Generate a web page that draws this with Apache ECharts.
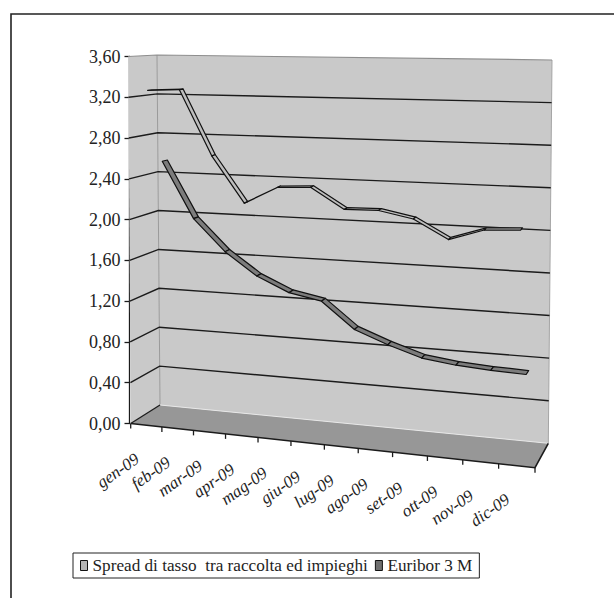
<!DOCTYPE html>
<html>
<head>
<meta charset="utf-8">
<script src="https://cdn.jsdelivr.net/npm/echarts@6/dist/echarts.min.js"></script>
<style>
  html, body { margin: 0; padding: 0; background: #fff; }
  #chart { width: 614px; height: 598px; }
</style>
</head>
<body>
<div id="chart"></div>
<script>
// Monthly values, 2009
const categories = ['gen-09', 'feb-09', 'mar-09', 'apr-09', 'mag-09', 'giu-09',
                    'lug-09', 'ago-09', 'set-09', 'ott-09', 'nov-09', 'dic-09'];
const spreadValues  = [3.27, 3.29, 2.66, 2.22, 2.39, 2.41, 2.22, 2.23, 2.17, 2.00, 2.11, 2.13];
const euriborValues = [2.54, 1.98, 1.67, 1.45, 1.31, 1.25, 1.00, 0.88, 0.78, 0.74, 0.72, 0.71];
const yTicks = [0, 0.4, 0.8, 1.2, 1.6, 2.0, 2.4, 2.8, 3.2, 3.6];
const seriesNames = ['Spread di tasso  tra raccolta ed impieghi', 'Euribor 3 M'];

// Screen geometry of the 3D box (floor corners, heights of the full value range,
// lean of the vertical edges) used to project the flat cartesian grid.
const BOX = {
  fl: [130.7, 423.5], fr: [535, 467.7], br: [548.3, 443.3], bl: [160, 405],
  hFL: 367, hFR: 396, hBR: 383.3, hBL: 350,
  lFL: -2.4, lFR: 4, lBR: 3.7, lBL: -3,
  persp: 0.0877
};
const WALL = '#c9c9c9';
const FLOOR = '#979797';
const INK = '#1b1b1b';
const FONT = 'Liberation Serif';

function lerp(a, b, t) { return a + (b - a) * t; }
function bil(q00, q10, q11, q01, u, z) { return lerp(lerp(q00, q10, u), lerp(q01, q11, u), z); }
function warp(u) { return u / (1 + BOX.persp * (1 - u)); }
// u: 0..1 along the categories, t: 0..1 along the value range, z: 0 front .. 1 back
function project(u, t, z) {
  const w = warp(u);
  const x = bil(BOX.fl[0], BOX.fr[0], BOX.br[0], BOX.bl[0], w, z);
  const y = bil(BOX.fl[1], BOX.fr[1], BOX.br[1], BOX.bl[1], w, z);
  const h = bil(BOX.hFL, BOX.hFR, BOX.hBR, BOX.hBL, w, z);
  const l = bil(BOX.lFL, BOX.lFR, BOX.lBR, BOX.lBL, w, z);
  return [x + l * t, y - h * t];
}
// pixel of the flat grid -> unit coordinates inside the grid
function toUnit(cs, pt) {
  return [(pt[0] - cs.x) / cs.width, (cs.y + cs.height - pt[1]) / cs.height];
}

function renderWalls(params, api) {
  const cs = params.coordSys;
  const P = project;
  const kids = [];
  kids.push({ type: 'polygon', shape: { points: [P(0,0,0), P(0,1,0), P(0,1,1), P(0,0,1)] }, style: { fill: WALL } });
  kids.push({ type: 'polygon', shape: { points: [P(0,0,1), P(0,1,1), P(1,1,1), P(1,0,1)] }, style: { fill: WALL } });
  kids.push({ type: 'polygon', shape: { points: [P(0,0,0), P(1,0,0), P(1,0,1), P(0,0,1)] }, style: { fill: FLOOR } });
  // wall edges
  kids.push({ type: 'polyline', shape: { points: [P(0,0,1), P(0,1,1)] }, style: { stroke: '#9a9a9a', lineWidth: 1, fill: null } });
  kids.push({ type: 'polyline', shape: { points: [P(1,0,1), P(1,1,1)] }, style: { stroke: '#a5a5a5', lineWidth: 1, fill: null } });
  kids.push({ type: 'polyline', shape: { points: [P(0,0,1), P(1,0,1)] }, style: { stroke: '#e8e8e8', lineWidth: 1, fill: null } });
  // value gridlines across the side wall and the back wall
  yTicks.forEach(function (v) {
    const t = toUnit(cs, api.coord([0, v]))[1];
    if (v === 0) {
      kids.push({ type: 'polyline', shape: { points: [P(0,0,0), P(0,0,1)] }, style: { stroke: INK, lineWidth: 1.3, fill: null } });
    } else if (t > 0.999) {
      kids.push({ type: 'polyline', shape: { points: [P(0,t,0), P(0,t,1), P(1,t,1)] }, style: { stroke: '#8e8e8e', lineWidth: 1.2, fill: null } });
    } else {
      kids.push({ type: 'polyline', shape: { points: [P(0,t,0), P(0,t,1), P(1,t,1)] }, style: { stroke: INK, lineWidth: 1.4, fill: null } });
    }
  });
  // front and right floor edges
  kids.push({ type: 'polyline', shape: { points: [P(0,0,0), P(1,0,0), P(1,0,1)] }, style: { stroke: INK, lineWidth: 1.6, fill: null } });
  // category ticks on the front edge
  const bw = api.size([1, 0])[0];
  for (let k = 0; k <= categories.length; k++) {
    const cx = api.coord([Math.min(k, categories.length - 1), 0])[0] + (k < categories.length ? -bw / 2 : bw / 2);
    const u = (cx - cs.x) / cs.width;
    const p = P(u, 0, 0);
    kids.push({ type: 'line', shape: { x1: p[0], y1: p[1], x2: p[0], y2: p[1] + 5 }, style: { stroke: INK, lineWidth: 1.3 } });
  }
  return { type: 'group', children: kids };
}

function renderLabel(params, api) {
  const cs = params.coordSys;
  const idx = api.value(0);
  const u = toUnit(cs, api.coord([idx, 0]))[0];
  const p = project(u, 0, 0);
  return {
    type: 'text', x: p[0] - 9, y: p[1] + 32, rotation: 35 * Math.PI / 180,
    style: { text: categories[idx], fontFamily: FONT, fontStyle: 'italic', fontSize: 17, fill: '#1e1e1e',
             textAlign: 'right', textVerticalAlign: 'middle' }
  };
}

function ribbon(z0, z1, fill) {
  return function (params, api) {
    const cs = params.coordSys;
    const i = api.value(0);
    const a = toUnit(cs, api.coord([i, api.value(1)]));
    const b = toUnit(cs, api.coord([i + 1, api.value(2)]));
    return {
      type: 'polygon',
      shape: { points: [project(a[0], a[1], z0), project(b[0], b[1], z0), project(b[0], b[1], z1), project(a[0], a[1], z1)] },
      style: { fill: fill, stroke: '#111', lineWidth: 1.2, lineJoin: 'round' }
    };
  };
}
function segments(values) {
  const out = [];
  for (let i = 0; i < values.length - 1; i++) out.push([i, values[i], values[i + 1]]);
  return out;
}

const SPREAD_FILL = '#bdbdbd';
const EURIBOR_FILL = '#7c7c7c';

const chart = echarts.init(document.getElementById('chart'), null, { renderer: 'svg' });
chart.setOption({
  animation: false,
  backgroundColor: '#fff',
  textStyle: { fontFamily: FONT },
  graphic: [{
    type: 'rect', silent: true, z: -10,
    shape: { x: 11, y: 14, width: 700, height: 700 },
    style: { fill: 'none', stroke: '#222', lineWidth: 1.6 }
  }],
  grid: { left: 129.5, top: 56.5, width: 405, height: 367, containLabel: false },
  xAxis: { type: 'category', data: categories, show: false },
  yAxis: {
    type: 'value', min: 0, max: 3.6, interval: 0.4,
    axisLine: { show: true, lineStyle: { color: INK, width: 1.3 } },
    axisTick: { show: true, length: 5, lineStyle: { color: INK, width: 1.3 } },
    splitLine: { show: false },
    axisLabel: {
      margin: 9, color: '#222', fontSize: 18, fontFamily: FONT,
      formatter: function (v) { return v.toFixed(2).replace('.', ','); }
    }
  },
  legend: {
    left: 73, top: 553,
    orient: 'horizontal',
    padding: [4, 7, 4, 7],
    itemGap: 7, itemWidth: 7, itemHeight: 10,
    borderColor: '#222', borderWidth: 1,
    textStyle: { fontSize: 17.2, color: '#1e1e1e', fontFamily: FONT },
    data: [
      { name: seriesNames[0], icon: 'rect', itemStyle: { color: '#b4b4b4', borderColor: '#111', borderWidth: 1 } },
      { name: seriesNames[1], icon: 'rect', itemStyle: { color: '#6f6f6f', borderColor: '#111', borderWidth: 1 } }
    ]
  },
  series: [
    { type: 'custom', name: 'walls', renderItem: renderWalls, data: [[0, 0]], clip: false, silent: true, z: 1 },
    { type: 'custom', name: 'labels', renderItem: renderLabel, data: categories.map(function (c, i) { return [i, 0]; }), clip: false, silent: true, z: 2 },
    { type: 'custom', name: seriesNames[1], renderItem: ribbon(0.62, 0.80, EURIBOR_FILL),
      data: segments(euriborValues), encode: { x: 0, y: [1, 2] }, clip: false, z: 3,
      itemStyle: { color: EURIBOR_FILL } },
    { type: 'custom', name: seriesNames[0], renderItem: ribbon(0.12, 0.26, SPREAD_FILL),
      data: segments(spreadValues), encode: { x: 0, y: [1, 2] }, clip: false, z: 4,
      itemStyle: { color: SPREAD_FILL } }
  ]
});
</script>
</body>
</html>
